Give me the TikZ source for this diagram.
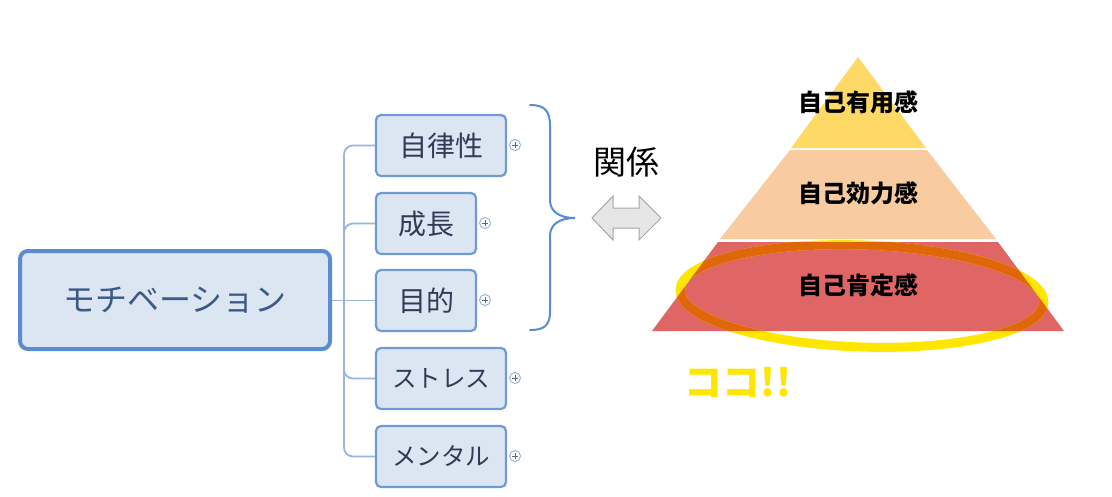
\documentclass[tikz,border=0pt]{standalone}
\usepackage{fontspec}
\newfontfamily\jp{Noto Sans CJK JP}
\usetikzlibrary{calc}
\definecolor{mainborder}{HTML}{5A8CD2}
\definecolor{boxfill}{HTML}{DCE6F2}
\definecolor{childborder}{HTML}{6F9AD3}
\definecolor{linkcol}{HTML}{98B6E0}
\definecolor{maintext}{HTML}{3B5A85}
\definecolor{childtext}{HTML}{2E3D55}
\definecolor{pyrtop}{HTML}{FFD966}
\definecolor{pyrmid}{HTML}{F8CBA0}
\definecolor{pyrbot}{HTML}{E06666}
\definecolor{hlyellow}{HTML}{FFE600}
\definecolor{hlorange}{HTML}{E0660A}
\definecolor{arrowfill}{HTML}{E6E6E6}
\definecolor{arrowdraw}{HTML}{A6A6A6}
\tikzset{
  mainbox/.style={draw=mainborder, fill=boxfill, line width=4pt, rounded corners=8pt,
    minimum width=310pt, minimum height=98pt, font=\jp\fontsize{32}{36}\selectfont, text=maintext},
  childbox/.style={draw=childborder, fill=boxfill, line width=2.2pt, rounded corners=5pt,
    minimum height=61pt, font=\jp\fontsize{28}{32}\selectfont, text=childtext},
  katabox/.style={childbox, font=\jp\fontsize{24.5}{28}\selectfont},
  link/.style={draw=linkcol, line width=1.8pt, rounded corners=9pt},
  plusicon/.style={circle, draw=linkcol, fill=white, line width=1pt, minimum size=11pt, inner sep=0pt,
    path picture={\draw[black!60, line width=1pt]
      ($(path picture bounding box.center)+(-2.8,0)$) -- ($(path picture bounding box.center)+(2.8,0)$)
      ($(path picture bounding box.center)+(0,-2.8)$) -- ($(path picture bounding box.center)+(0,2.8)$);}},
  pyrtext/.style={font=\jp\bfseries\fontsize{24}{28}\selectfont, text=black},
}
\begin{document}
\begin{tikzpicture}[x=1pt,y=-1pt]
\useasboundingbox (0,0) rectangle (1112,496);
\fill[white] (0,0) rectangle (1112,496);

% connectors first (behind boxes)
\coordinate (J) at (344,300.5);
\coordinate (M) at (330,300.5);
\coordinate (K1) at (376,145.5);
\coordinate (K2) at (376,223.5);
\coordinate (K3) at (376,300.5);
\coordinate (K4) at (376,378.5);
\coordinate (K5) at (376,456.5);
\draw[link] (M) -- (K3);
\draw[link] (J) |- (K1);
\draw[link] (J) |- (K2);
\draw[link] (J) |- (K4);
\draw[link] (J) |- (K5);

% mind map
\node[mainbox] (main) at (175,300) {モチベーション};
\node[childbox, minimum width=130pt] (c1) at (441,145.5) {自律性};
\node[childbox, minimum width=100pt] (c2) at (426,223.5) {成長};
\node[childbox, minimum width=100pt] (c3) at (426,300.5) {目的};
\node[katabox, minimum width=130pt] (c4) at (441,378.5) {ストレス};
\node[katabox, minimum width=130pt] (c5) at (441,456.5) {メンタル};

\node[plusicon] (p1) at (515,145) {};
\node[plusicon] (p2) at (485,223) {};
\node[plusicon] (p3) at (485,300) {};
\node[plusicon] (p4) at (515,378) {};
\node[plusicon] (p5) at (515,456) {};

% brace
\draw[mainborder, line width=2pt, line cap=round]
  (530,105) .. controls (545,105) and (550,111) .. (550,126) -- (550,200)
  .. controls (550,212) and (560,218) .. (575,218)
  .. controls (560,218) and (550,224) .. (550,236) -- (550,311)
  .. controls (550,325) and (545,330) .. (530,330);

% relation label and arrow
\node[font=\jp\fontsize{33}{37}\selectfont] (rel) at (626,162) {関係};
\draw[fill=arrowfill, draw=arrowdraw, line width=1pt, line join=miter]
  (592,218) -- (613,196) -- (613,208) -- (639,208) -- (639,196) -- (661,218)
  -- (639,240) -- (639,228) -- (613,228) -- (613,240) -- cycle;

% pyramid
\fill[pyrtop] (858,57) -- (926,148) -- (791,148) -- cycle;
\fill[pyrmid] (790,150) -- (927,150) -- (996,239) -- (720,239) -- cycle;
\fill[pyrbot] (718,242) -- (998,242) -- (1064,331) -- (652,331) -- cycle;
\node[pyrtext] (t1) at (858,102) {自己有用感};
\node[pyrtext] (t2) at (858,193) {自己効力感};
\node[pyrtext] (t3) at (858,285) {自己肯定感};

% highlighter ellipse
\draw[hlyellow, line width=9pt, rotate around={-2:(862,296)}] (862,296) ellipse [x radius=182pt, y radius=51pt];
\begin{scope}
\clip (718,242) -- (998,242) -- (1064,331) -- (652,331) -- cycle;
\draw[hlorange, line width=9pt, rotate around={-2:(862,296)}] (862,296) ellipse [x radius=182pt, y radius=51pt];
\end{scope}

% handwritten note
\node[font=\jp\bfseries\fontsize{38}{42}\selectfont, text=hlyellow] (note) at (738,382) {ココ!!};
\end{tikzpicture}
\end{document}
